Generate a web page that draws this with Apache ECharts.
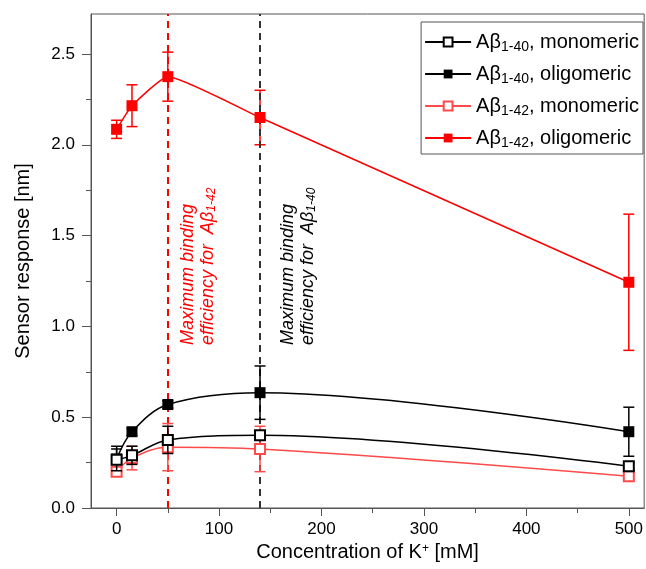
<!DOCTYPE html>
<html><head><meta charset="utf-8">
<script src="https://cdn.jsdelivr.net/npm/echarts@6/dist/echarts.min.js"></script>
<style>html,body{margin:0;padding:0;background:#fff}#c{width:646px;height:569px}</style>
</head><body><div id="c"></div>
<script>
// ---- data ----
const xVals = [0, 15, 50, 140, 500];
const ab40Mono    = [0.265, 0.29, 0.375, 0.40, 0.23];
const ab40MonoErr = [0.06, 0.05, 0.075, 0.025, 0.02];
const ab40Olig    = [0.27, 0.42, 0.57, 0.635, 0.42];
const ab40OligErr = [0.07, 0.02, 0.02, 0.147, 0.135];
const ab42Mono    = [0.20, 0.275, 0.335, 0.325, 0.175];
const ab42MonoErr = [0.025, 0.065, 0.13, 0.125, 0.02];
const ab42Olig    = [2.085, 2.215, 2.375, 2.15, 1.243];
const ab42OligErr = [0.05, 0.115, 0.135, 0.15, 0.375];
const maxBinding42 = 50;
const maxBinding40 = 140;
const xTicks = [0, 100, 200, 300, 400, 500];
const xMinorTicks = [50, 150, 250, 350, 450];
const yTicks = [0, 0.5, 1.0, 1.5, 2.0, 2.5];
const yMinorTicks = [0.25, 0.75, 1.25, 1.75, 2.25];
const legendNames = ['ab40mono', 'ab40olig', 'ab42mono', 'ab42olig'];
const legendLabels = {
  ab40mono: '{t|Aβ}{s|1-40}{t|, monomeric}',
  ab40olig: '{t|Aβ}{s|1-40}{t|, oligomeric}',
  ab42mono: '{t|Aβ}{s|1-42}{t|, monomeric}',
  ab42olig: '{t|Aβ}{s|1-42}{t|, oligomeric}'
};

const FONT = 'Liberation Sans, Arial, sans-serif';
const RED = '#ff0000', LRED = '#ff4a4a', BLK = '#000000';

function pairs(v) { return xVals.map((x, i) => [x, v[i]]); }
function errData(v, e) { return xVals.map((x, i) => [x, v[i] - e[i], v[i] + e[i]]); }
function errSeries(id, v, e, color, z) {
  return {
    type: 'custom', name: id + '_err', data: errData(v, e), z: z, silent: true,
    encode: { x: 0, y: [1, 2] },
    renderItem: function (params, api) {
      const x = api.value(0);
      const lo = api.coord([x, api.value(1)]);
      const hi = api.coord([x, api.value(2)]);
      const w = 5.5;
      const st = { stroke: color, lineWidth: 1.5 };
      return { type: 'group', children: [
        { type: 'line', shape: { x1: lo[0], y1: lo[1], x2: hi[0], y2: hi[1] }, style: st },
        { type: 'line', shape: { x1: lo[0] - w, y1: lo[1], x2: lo[0] + w, y2: lo[1] }, style: st },
        { type: 'line', shape: { x1: hi[0] - w, y1: hi[1], x2: hi[0] + w, y2: hi[1] }, style: st }
      ]};
    }
  };
}
function lineSeries(id, v, color, filled, z, extra) {
  return Object.assign({
    type: 'line', name: id, data: pairs(v), smooth: 0.35, z: z,
    symbol: 'rect', symbolSize: filled ? 11 : 10,
    lineStyle: { color: color, width: 1.5 },
    itemStyle: filled ? { color: color } : { color: '#fff', borderColor: color, borderWidth: 2 },
    emphasis: { disabled: true }
  }, extra || {});
}

const chart = echarts.init(document.getElementById('c'), null, { renderer: 'canvas' });
const axisCommon = { axisLine: { show: true, onZero: false, lineStyle: { color: '#555', width: 1 } }, splitLine: { show: false } };
chart.setOption({
  animation: false,
  textStyle: { fontFamily: FONT },
  grid: { left: 91, right: 1, top: 14, bottom: 61, show: true, borderColor: '#555', borderWidth: 1, containLabel: false },
  legend: {
    data: legendNames, orient: 'vertical', right: 3, top: 22,
    itemWidth: 46, itemHeight: 11, itemGap: 10,
    padding: [10, 4, 4, 3],
    borderColor: '#555', borderWidth: 1, backgroundColor: '#fff',
    formatter: n => legendLabels[n],
    textStyle: { color: '#000', fontFamily: FONT,
      rich: { t: { fontSize: 20, lineHeight: 24, fontFamily: FONT, color: '#000' },
              s: { fontSize: 14, lineHeight: 14, verticalAlign: 'bottom', fontFamily: FONT, color: '#000' } } }
  },
  xAxis: [
    Object.assign({}, axisCommon, {
      type: 'value', min: -25, max: 515,
      name: 'Concentration of K{sup|+} [mM]', nameLocation: 'middle', nameGap: 33,
      nameTextStyle: { fontSize: 20, color: '#000', fontFamily: FONT,
        rich: { sup: { fontSize: 12, verticalAlign: 'top', lineHeight: 12, fontFamily: FONT, color: '#000' } } },
      axisTick: { show: true, length: 8, lineStyle: { color: '#555' }, customValues: xTicks },
      axisLabel: { fontSize: 17, color: '#000', margin: 13, customValues: xTicks, fontFamily: FONT }
    }),
    {
      type: 'value', min: -25, max: 515, position: 'bottom',
      axisLine: { show: false, onZero: false }, splitLine: { show: false },
      axisTick: { show: true, length: 5, lineStyle: { color: '#555' }, customValues: xMinorTicks },
      axisLabel: { show: false }
    }
  ],
  yAxis: [
    Object.assign({}, axisCommon, {
      type: 'value', min: 0, max: 2.72,
      name: 'Sensor response [nm]', nameLocation: 'middle', nameGap: 58, nameRotate: 90,
      nameTextStyle: { fontSize: 20, color: '#000', fontFamily: FONT },
      axisTick: { show: true, length: 9, lineStyle: { color: '#555' }, customValues: yTicks },
      axisLabel: { fontSize: 17, color: '#000', margin: 16, customValues: yTicks, fontFamily: FONT,
        formatter: v => v.toFixed(1) }
    }),
    {
      type: 'value', min: 0, max: 2.72, position: 'left',
      axisLine: { show: false, onZero: false }, splitLine: { show: false },
      axisTick: { show: true, length: 5, lineStyle: { color: '#555' }, customValues: yMinorTicks },
      axisLabel: { show: false }
    }
  ],
  series: [
    lineSeries('ab42olig', ab42Olig, RED, true, 5, {
      smooth: 0.15,
      markLine: { silent: true, symbol: ['none', 'none'], label: { show: false },
        lineStyle: { color: RED, type: [7, 5], width: 2 }, data: [{ xAxis: maxBinding42 }] }
    }),
    errSeries('ab42olig', ab42Olig, ab42OligErr, RED, 4),
    lineSeries('ab40olig', ab40Olig, BLK, true, 7, {
      markLine: { silent: true, symbol: ['none', 'none'], label: { show: false },
        lineStyle: { color: '#333', type: [7, 5], width: 2 }, data: [{ xAxis: maxBinding40 }] }
    }),
    errSeries('ab40olig', ab40Olig, ab40OligErr, BLK, 6),
    lineSeries('ab42mono', ab42Mono, LRED, false, 9),
    errSeries('ab42mono', ab42Mono, ab42MonoErr, LRED, 8),
    lineSeries('ab40mono', ab40Mono, BLK, false, 11),
    errSeries('ab40mono', ab40Mono, ab40MonoErr, BLK, 10)
  ],
  graphic: [
    { type: 'text', x: 198, y: 345, rotation: Math.PI / 2, silent: true,
      style: { text: '{i|Maximum binding}\n{i|efficiency for  Aβ}{s|1-42}', align: 'left', verticalAlign: 'middle',
        rich: { i: { fontSize: 18, fontStyle: 'italic', fontFamily: FONT, fill: RED, lineHeight: 20 },
                s: { fontSize: 12, fontStyle: 'italic', fontFamily: FONT, fill: RED, lineHeight: 12, verticalAlign: 'bottom' } } } },
    { type: 'text', x: 298, y: 345, rotation: Math.PI / 2, silent: true,
      style: { text: '{i|Maximum binding}\n{i|efficiency for  Aβ}{s|1-40}', align: 'left', verticalAlign: 'middle',
        rich: { i: { fontSize: 18, fontStyle: 'italic', fontFamily: FONT, fill: '#000', lineHeight: 20 },
                s: { fontSize: 12, fontStyle: 'italic', fontFamily: FONT, fill: '#000', lineHeight: 12, verticalAlign: 'bottom' } } } }
  ]
});
</script></body></html>
